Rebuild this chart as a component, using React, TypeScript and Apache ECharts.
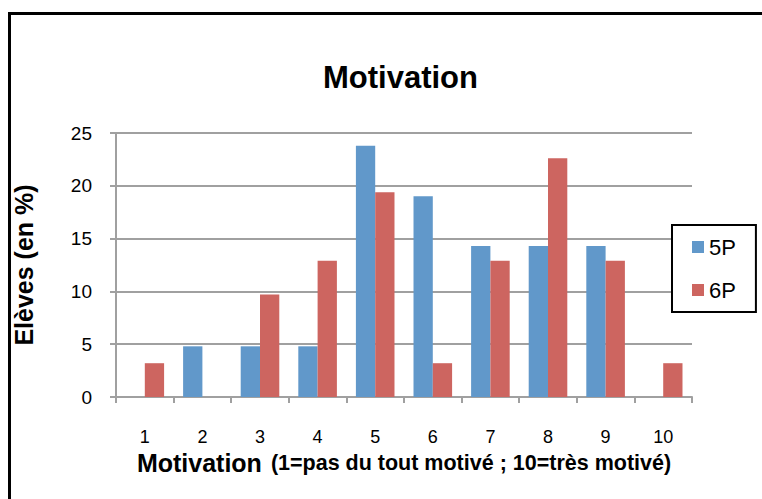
import React, { useEffect, useRef } from "react";
import * as echarts from "echarts";

const categories = ["1", "2", "3", "4", "5", "6", "7", "8", "9", "10"];
const series5P = [0, 4.8, 4.8, 4.8, 23.8, 19.0, 14.3, 14.3, 14.3, 0];
const series6P = [3.2, 0, 9.7, 12.9, 19.4, 3.2, 12.9, 22.6, 12.9, 3.2];
const yTicks = { min: 0, max: 25, interval: 5 };

const FONT = "'Liberation Sans', Arial, sans-serif";

export default function App() {
  const ref = useRef<HTMLDivElement>(null);
  useEffect(() => {
    if (!ref.current) return;
    const chart = echarts.init(ref.current, null, { renderer: "svg" });
    chart.setOption({
      animation: false,
      backgroundColor: "#fff",
      textStyle: { fontFamily: FONT, color: "#000" },
      title: {
        text: "Motivation",
        left: 318,
        top: 57,
        textStyle: { fontFamily: FONT, fontSize: 31, fontWeight: "bold", color: "#000" },
      },
      graphic: [
        {
          type: "rect",
          shape: { x: 9.5, y: 13.5, width: 800, height: 600 },
          style: { fill: "none", stroke: "#000", lineWidth: 3 },
          silent: true,
          z: 100,
        },
      ],
      legend: {
        orient: "vertical",
        left: 672,
        top: 225,
        padding: [11, 20, 11, 20],
        itemGap: 21,
        itemWidth: 12,
        itemHeight: 12,
        icon: "rect",
        borderColor: "#000",
        borderWidth: 2,
        backgroundColor: "#fff",
        textStyle: { fontFamily: FONT, fontSize: 22, color: "#000" },
        data: ["5P", "6P"],
      },
      grid: { left: 116, top: 133, right: 70, bottom: 102, containLabel: false },
      xAxis: {
        type: "category",
        data: categories,
        axisLine: { lineStyle: { color: "#a0a0a0", width: 2 } },
        axisTick: { show: true, alignWithLabel: false, length: 6, lineStyle: { color: "#a0a0a0", width: 2 } },
        axisLabel: { margin: 31, fontSize: 18, color: "#000", fontFamily: FONT },
        name: "{a|Motivation}{b|(1=pas du tout motivé ; 10=très motivé)}",
        nameLocation: "middle",
        nameGap: 49,
        nameTextStyle: {
          color: "#000",
          fontFamily: FONT,
          rich: {
            a: { fontSize: 25, fontWeight: "bold", fontFamily: FONT, color: "#000", padding: [0, 9, 0, 0] },
            b: { fontSize: 21.5, fontWeight: "bold", fontFamily: FONT, color: "#000" },
          },
        },
      },
      yAxis: {
        type: "value",
        min: yTicks.min,
        max: yTicks.max,
        interval: yTicks.interval,
        axisLine: { show: true, lineStyle: { color: "#a0a0a0", width: 2 } },
        axisTick: { show: true, length: 6, lineStyle: { color: "#a0a0a0", width: 2 } },
        axisLabel: { margin: 24, fontSize: 19, color: "#000", fontFamily: FONT },
        splitLine: { lineStyle: { color: "#a0a0a0", width: 2 } },
        name: "Elèves (en %)",
        nameLocation: "middle",
        nameGap: 80,
        nameTextStyle: { fontSize: 25, fontWeight: "bold", color: "#000", fontFamily: FONT },
      },
      series: [
        {
          name: "5P",
          type: "bar",
          data: series5P,
          barGap: "0%",
          barCategoryGap: "33%",
          itemStyle: { color: "#6198CA" },
        },
        {
          name: "6P",
          type: "bar",
          data: series6P,
          barGap: "0%",
          barCategoryGap: "33%",
          itemStyle: { color: "#CD6560" },
        },
      ],
    });
    return () => chart.dispose();
  }, []);
  return (
    <div
      ref={ref}
      style={{ position: "fixed", left: 0, top: 0, width: 762, height: 499 }}
    />
  );
}
